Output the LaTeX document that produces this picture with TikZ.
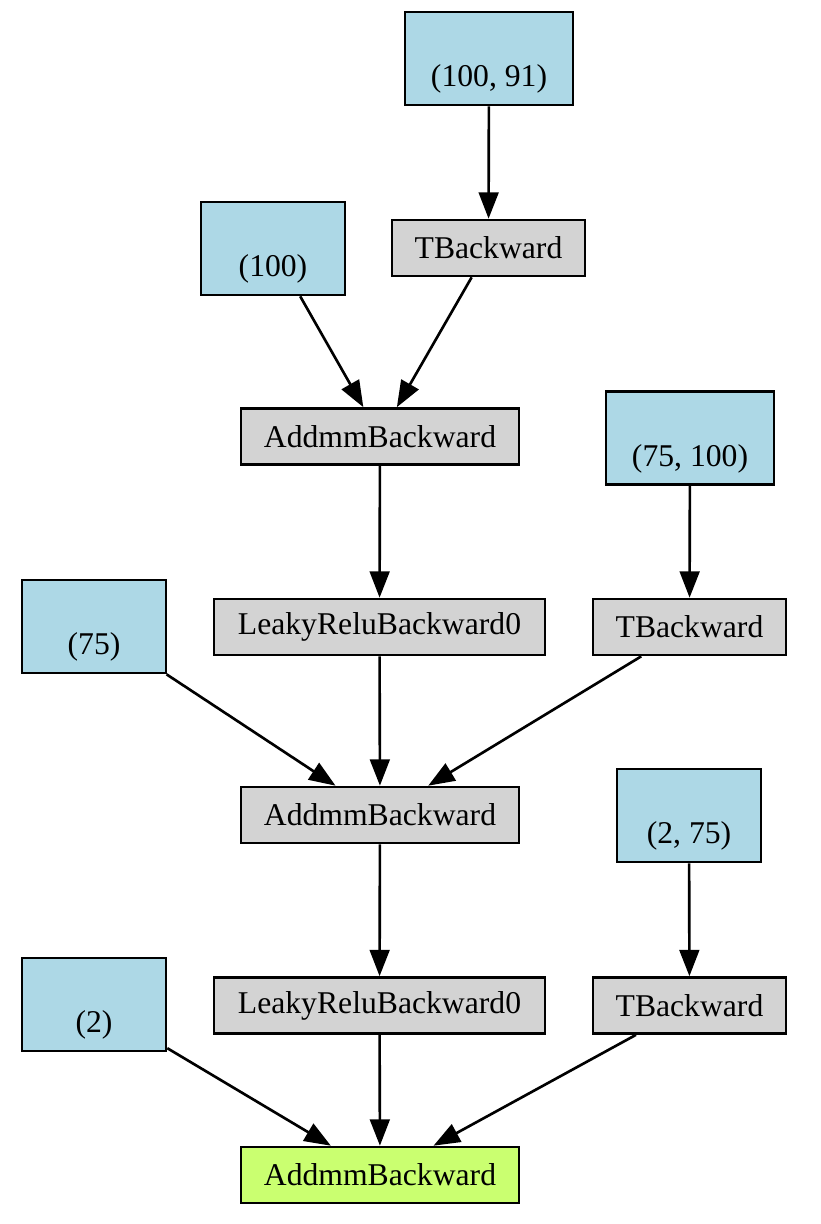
\documentclass[tikz,border=0pt]{standalone}
\usepackage{fontspec}
\setmainfont{Liberation Serif}
\usetikzlibrary{arrows.meta}
\definecolor{leafblue}{HTML}{ADD8E6}
\definecolor{opgray}{HTML}{D3D3D3}
\definecolor{rootgreen}{HTML}{CAFF70}
\def\u{0.379pt}
\begin{document}
\begin{tikzpicture}[x=\u,y=-\u,
  base/.style={draw=black,line width=1pt,rectangle,inner sep=0pt,align=center,font=\fontsize{12}{14}\selectfont},
  leaf/.style={base,fill=leafblue,minimum height=93*\u},
  op/.style={base,fill=opgray,minimum height=56*\u},
  root/.style={base,fill=rootgreen,minimum height=56*\u},
  edge/.style={draw=black,line width=1pt,-{Triangle[length=10pt,width=7.5pt]}}]
\useasboundingbox (0,0) rectangle (820,1224);
\node[leaf,minimum width=168*\u] (A1) at (489,58.5) {\strut\\(100, 91)};
\node[op,minimum width=193*\u] (T1) at (488.5,248) {TBackward};
\node[leaf,minimum width=144*\u] (B1) at (273,248.5) {\strut\\(100)};
\node[op,minimum width=278*\u] (M1) at (380,436.5) {AddmmBackward};
\node[leaf,minimum width=168*\u] (A2) at (690,438) {\strut\\(75, 100)};
\node[op,minimum width=331*\u] (L1) at (379.5,627) {LeakyReluBackward0};
\node[op,minimum width=193*\u] (T2) at (689.5,627) {TBackward};
\node[leaf,minimum width=144*\u] (B2) at (94,626.5) {\strut\\(75)};
\node[op,minimum width=278*\u] (M2) at (380,815) {AddmmBackward};
\node[leaf,minimum width=144*\u] (A3) at (689,815.5) {\strut\\(2, 75)};
\node[op,minimum width=331*\u] (L2) at (379.5,1005.5) {LeakyReluBackward0};
\node[op,minimum width=193*\u] (T3) at (689.5,1005.5) {TBackward};
\node[leaf,minimum width=144*\u] (B3) at (94,1004.5) {\strut\\(2)};
\node[root,minimum width=278*\u] (M3) at (380,1175) {AddmmBackward};
\draw[edge] (A1) -- (T1);
\draw[edge] (B1) -- (M1);
\draw[edge] (T1) -- (M1);
\draw[edge] (M1) -- (L1);
\draw[edge] (A2) -- (T2);
\draw[edge] (B2) -- (M2);
\draw[edge] (L1) -- (M2);
\draw[edge] (T2) -- (M2);
\draw[edge] (M2) -- (L2);
\draw[edge] (A3) -- (T3);
\draw[edge] (B3) -- (M3);
\draw[edge] (L2) -- (M3);
\draw[edge] (T3) -- (M3);
\end{tikzpicture}
\end{document}
